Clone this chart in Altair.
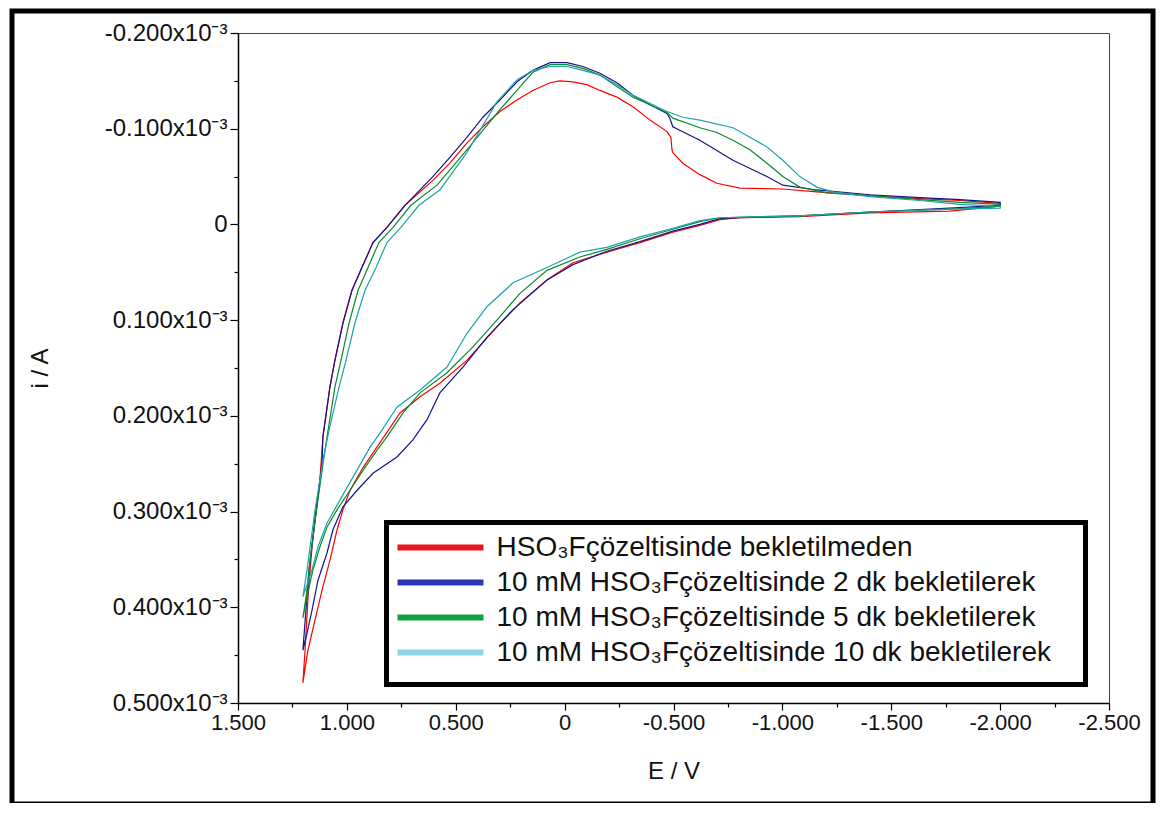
import json
import altair as alt
import pandas as pd

# ---------------- data (E in V, i in units of 1e-3 A) ----------------
names = [
    "HSO₃Fçözeltisinde bekletilmeden",
    "10 mM HSO₃Fçözeltisinde 2 dk bekletilerek",
    "10 mM HSO₃Fçözeltisinde 5 dk bekletilerek",
    "10 mM HSO₃Fçözeltisinde 10 dk bekletilerek",
]

E_red = [1.202, 1.192, 1.179, 1.169, 1.156, 1.137, 1.124, 1.110, 1.078, 1.055,
         1.018, 0.977, 0.931, 0.880, 0.816, 0.733, 0.605, 0.527, 0.449, 0.375,
         0.297, 0.219, 0.146, 0.067, 0.022, -0.038, -0.102, -0.162, -0.240, -0.314,
         -0.392, -0.470, -0.488, -0.493, -0.497, -0.543, -0.621, -0.699, -0.805, -1.002,
         -1.158, -1.402, -1.631, -1.815, -2.000,
         -2.000, -1.769, -1.402, -1.080, -0.805, -0.713, -0.621, -0.497, -0.346, -0.194,
         -0.038, 0.081, 0.205, 0.311, 0.449, 0.573, 0.664, 0.756, 0.848, 0.926,
         0.986, 1.018, 1.045, 1.078, 1.114, 1.146, 1.179, 1.202]
I_red = [0.479, 0.445, 0.392, 0.361, 0.327, 0.291, 0.267, 0.222, 0.170, 0.142,
         0.103, 0.069, 0.045, 0.019, 0.003, -0.020, -0.046, -0.064, -0.085, -0.102,
         -0.118, -0.130, -0.140, -0.148, -0.150, -0.149, -0.146, -0.140, -0.133, -0.123,
         -0.109, -0.097, -0.091, -0.078, -0.075, -0.064, -0.052, -0.043, -0.038, -0.037,
         -0.034, -0.030, -0.027, -0.025, -0.022,
         -0.019, -0.014, -0.012, -0.008, -0.007, -0.005, 0.001, 0.008, 0.019, 0.029,
         0.040, 0.058, 0.082, 0.107, 0.142, 0.166, 0.180, 0.197, 0.228, 0.254,
         0.278, 0.298, 0.319, 0.351, 0.382, 0.413, 0.445, 0.479]

E_blue = [1.202, 1.188, 1.174, 1.156, 1.137, 1.114, 1.110, 1.078, 1.055, 1.018,
          0.977, 0.931, 0.880, 0.816, 0.733, 0.605, 0.527, 0.449, 0.375, 0.297,
          0.219, 0.146, 0.067, -0.011, -0.084, -0.162, -0.240, -0.314, -0.392, -0.470,
          -0.483, -0.497, -0.621, -0.773, -0.929, -1.002, -1.158, -1.402, -1.631, -1.815,
          -2.000,
          -2.000, -1.769, -1.402, -1.080, -0.805, -0.713, -0.621, -0.497, -0.346, -0.194,
          -0.038, 0.081, 0.237, 0.357, 0.467, 0.573, 0.632, 0.697, 0.770, 0.880,
          0.954, 1.018, 1.064, 1.091, 1.133, 1.160, 1.183, 1.202]
I_blue = [0.445, 0.403, 0.361, 0.327, 0.291, 0.249, 0.222, 0.170, 0.142, 0.103,
          0.069, 0.045, 0.019, 0.003, -0.020, -0.050, -0.070, -0.091, -0.112, -0.130,
          -0.149, -0.161, -0.169, -0.169, -0.165, -0.158, -0.148, -0.135, -0.125, -0.116,
          -0.111, -0.102, -0.088, -0.067, -0.050, -0.041, -0.036, -0.031, -0.028, -0.026,
          -0.023,
          -0.020, -0.017, -0.013, -0.009, -0.007, -0.006, 0.000, 0.007, 0.018, 0.028,
          0.042, 0.058, 0.089, 0.118, 0.149, 0.176, 0.204, 0.225, 0.243, 0.260,
          0.278, 0.295, 0.319, 0.343, 0.372, 0.403, 0.427, 0.445]

E_green = [1.202, 1.183, 1.169, 1.151, 1.133, 1.114, 1.091, 1.055, 1.027, 0.990,
           0.949, 0.903, 0.853, 0.788, 0.706, 0.586, 0.449, 0.297, 0.219, 0.146, 0.067,
           -0.011, -0.084, -0.162, -0.240, -0.314, -0.392, -0.470, -0.497, -0.621, -0.699,
           -0.773, -0.851, -0.929, -1.002, -1.080, -1.204, -1.402, -1.631, -1.815, -2.000,
           -2.000, -1.769, -1.402, -1.080, -0.713, -0.621, -0.497, -0.346, -0.194, -0.070,
           0.081, 0.205, 0.311, 0.421, 0.540, 0.664, 0.742, 0.816, 0.862, 0.926,
           0.986, 1.045, 1.091, 1.124, 1.156, 1.179, 1.202]
I_green = [0.411, 0.382, 0.351, 0.319, 0.288, 0.257, 0.222, 0.170, 0.142, 0.103,
           0.069, 0.045, 0.019, 0.003, -0.020, -0.041, -0.078, -0.120, -0.140, -0.159, -0.167,
           -0.167, -0.163, -0.156, -0.144, -0.133, -0.125, -0.117, -0.111, -0.101, -0.096,
           -0.088, -0.078, -0.064, -0.050, -0.039, -0.033, -0.030, -0.026, -0.023, -0.021,
           -0.019, -0.016, -0.013, -0.009, -0.007, -0.003, 0.005, 0.015, 0.026, 0.034,
           0.048, 0.072, 0.100, 0.128, 0.155, 0.176, 0.197, 0.222, 0.236, 0.257,
           0.278, 0.298, 0.316, 0.337, 0.361, 0.385, 0.411]

E_cyan = [1.202, 1.183, 1.165, 1.146, 1.124, 1.105, 1.082, 1.036, 1.004, 0.963,
          0.917, 0.866, 0.816, 0.752, 0.669, 0.573, 0.449, 0.311, 0.219, 0.146, 0.067,
          -0.011, -0.084, -0.162, -0.240, -0.314, -0.470, -0.543, -0.621, -0.773, -0.851,
          -0.929, -1.002, -1.080, -1.158, -1.232, -1.402, -1.631, -1.815, -2.000,
          -2.000, -1.769, -1.402, -1.080, -0.713, -0.621, -0.497, -0.346, -0.194, -0.070,
          0.081, 0.237, 0.357, 0.449, 0.540, 0.664, 0.770, 0.848, 0.894, 0.972,
          1.032, 1.091, 1.133, 1.160, 1.202]
I_cyan = [0.389, 0.361, 0.330, 0.298, 0.267, 0.241, 0.215, 0.170, 0.142, 0.103,
          0.069, 0.045, 0.019, 0.003, -0.020, -0.036, -0.075, -0.128, -0.151, -0.161, -0.165,
          -0.165, -0.161, -0.156, -0.146, -0.135, -0.118, -0.112, -0.109, -0.101, -0.091,
          -0.081, -0.067, -0.050, -0.039, -0.034, -0.029, -0.025, -0.021, -0.019,
          -0.017, -0.016, -0.013, -0.009, -0.007, -0.004, 0.004, 0.013, 0.024, 0.029,
          0.045, 0.061, 0.086, 0.114, 0.149, 0.173, 0.191, 0.218, 0.233, 0.264,
          0.288, 0.312, 0.337, 0.361, 0.389]

line_colors = ["#ff0000", "#14148c", "#0c8a2c", "#1fa2aa"]
swatch_colors = ["#e8141e", "#2b36ae", "#14a040", "#8fd3e3"]

x_major = [1.5, 1.0, 0.5, 0.0, -0.5, -1.0, -1.5, -2.0, -2.5]
x_labels = ["1.500", "1.000", "0.500", "0", "-0.500", "-1.000", "-1.500", "-2.000", "-2.500"]
x_minor = [1.25, 0.75, 0.25, -0.25, -0.75, -1.25, -1.75, -2.25]
y_major = [-0.2, -0.1, 0.0, 0.1, 0.2, 0.3, 0.4, 0.5]
y_labels = ["-0.200x10⁻³", "-0.100x10⁻³", "0", "0.100x10⁻³", "0.200x10⁻³",
            "0.300x10⁻³", "0.400x10⁻³", "0.500x10⁻³"]
y_minor = [-0.15, -0.05, 0.05, 0.15, 0.25, 0.35, 0.45]

# ---------------- table ----------------
frames = []
for name, E, I in zip(names, [E_red, E_blue, E_green, E_cyan], [I_red, I_blue, I_green, I_cyan]):
    frames.append(pd.DataFrame({"series": name, "E": E, "I": I, "idx": list(range(len(E)))}))
df = pd.concat(frames, ignore_index=True)

def js(v):
    return json.dumps(v, ensure_ascii=False)

x_test = f"indexof({js(x_major)}, datum.value) >= 0"
y_test = f"indexof({js(y_major)}, datum.value) >= 0"
x_expr = f"{x_test} ? {js(x_labels)}[indexof({js(x_major)}, datum.value)] : ''"
y_expr = f"{y_test} ? {js(y_labels)}[indexof({js(y_major)}, datum.value)] : ''"

FONT = "Liberation Sans"

x_axis = alt.Axis(
    values=x_major + x_minor, labelExpr=x_expr, labelOverlap=False, labelFlush=False,
    tickSize={"condition": {"test": x_test, "value": 7}, "value": 4},
    tickColor="black", tickWidth=1.2, domainColor="black", domainWidth=1.5,
    labelFontSize=22, labelPadding=2, labelColor="#111", labelFont=FONT,
    titleFontSize=24, titleFontWeight="normal", titleColor="#111", titleFont=FONT,
    titleY=68, titleBaseline="middle", grid=False,
)
y_axis = alt.Axis(
    values=y_major + y_minor, labelExpr=y_expr, labelOverlap=False, labelFlush=False,
    tickSize={"condition": {"test": y_test, "value": 8}, "value": 4},
    tickColor="black", tickWidth=1.2, domainColor="black", domainWidth=1.5,
    labelFontSize=24, labelPadding=3, labelColor="#111", labelFont=FONT,
    titleFontSize=24, titleFontWeight="normal", titleColor="#111", titleFont=FONT,
    titleX=-198, titleY=335, titleAngle=270, titleAlign="center", titleBaseline="middle",
    grid=False,
)

x_enc = alt.X("E:Q", scale=alt.Scale(domain=[-2.5, 1.5], reverse=True, nice=False, zero=False),
              axis=x_axis, title="E / V")
y_enc = alt.Y("I:Q", scale=alt.Scale(domain=[-0.2, 0.5], reverse=True, nice=False, zero=False),
              axis=y_axis, title="i / A")

base = alt.Chart(df)

lines = base.mark_line(strokeWidth=1.2).encode(
    x=x_enc, y=y_enc,
    color=alt.Color("series:N", scale=alt.Scale(domain=names, range=line_colors), legend=None),
    order="idx:Q",
)

legend_layer = base.transform_filter("false").mark_line().encode(
    x=x_enc, y=y_enc,
    color=alt.Color(
        "series:N",
        scale=alt.Scale(domain=names, range=swatch_colors),
        title=None,
        legend=alt.Legend(
            orient="none", legendX=148.5, legendY=489.5, direction="vertical",
            symbolType="M-4,0L4,0", symbolSize=462, symbolStrokeWidth=6,
            symbolOffset=29, labelOffset=42,
            labelFontSize=28, labelFont=FONT, labelColor="#111", labelLimit=1000,
            padding=11, rowPadding=7,
        ),
    ),
)

deco = pd.DataFrame({"k": [0]})
frame = alt.Chart(deco).mark_rect(filled=False, color="black", strokeWidth=5).encode(
    x=alt.value(-226), x2=alt.value(915), y=alt.value(-22), y2=alt.value(771)
)
legend_box = alt.Chart(deco).mark_rect(filled=False, color="black", strokeWidth=5).encode(
    x=alt.value(148.5), x2=alt.value(847.5), y=alt.value(489.5), y2=alt.value(651.5)
)

chart = (
    alt.layer(lines, legend_layer, frame, legend_box)
    .resolve_scale(color="independent")
    .properties(width=871, height=670, autosize="none",
                padding={"left": 230, "top": 25, "right": 49, "bottom": 100})
    .configure(font=FONT, background="white")
    .configure_view(stroke="#444", strokeWidth=1)
)

chart.save("out.html", embed_options={"renderer": "svg", "actions": False})
